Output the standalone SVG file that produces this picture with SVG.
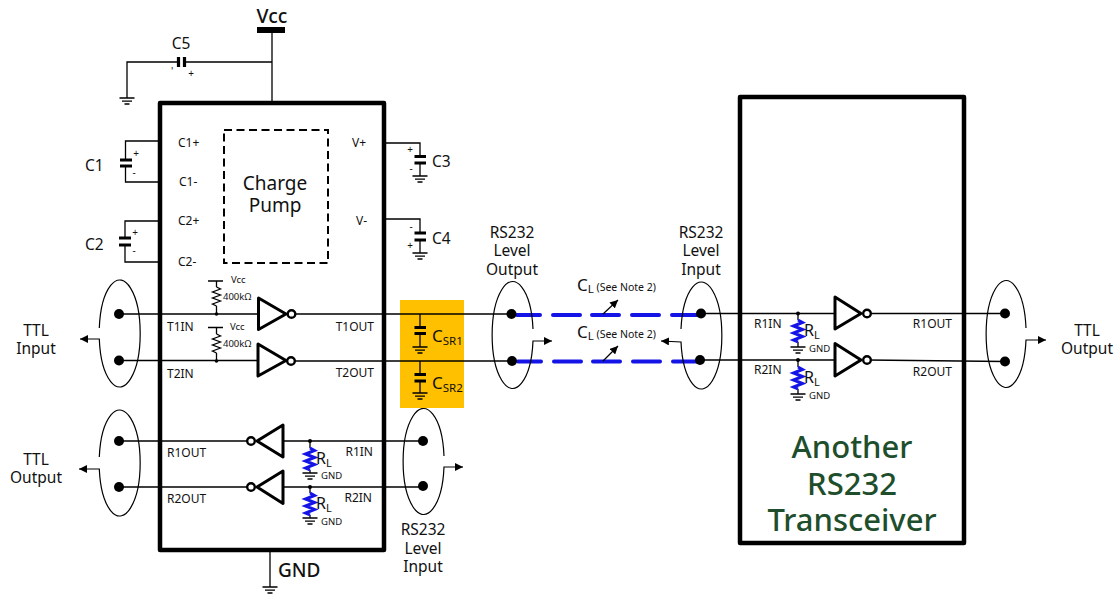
<svg xmlns="http://www.w3.org/2000/svg" width="1120" height="595" viewBox="0 0 1120 595">
<style>
text{font-family:"Noto Sans","Open Sans","Liberation Sans",sans-serif;fill:#111}
.m{text-anchor:middle}
.l{font-size:15.500px}
.p{font-size:12px}
.s{font-size:10px}
.x{font-size:9.500px}
.w{fill:none;stroke:#000;stroke-width:1.300}
.c{fill:none;stroke:#000;stroke-width:3.200}
.g{fill:none;stroke:#000;stroke-width:1.200}
.t{fill:#fff;stroke:#000;stroke-width:3;stroke-linejoin:round}
.o{fill:#fff;stroke:#000;stroke-width:2.400}
.z{fill:none;stroke:#1414e6;stroke-width:3}
.d{fill:none;stroke:#1414e6;stroke-width:4;stroke-linecap:round}
.big{font-size:31px;fill:#1E4E2C;font-weight:500}
.h{font-size:19px}
</style>
<defs>
<marker id="a" markerWidth="9" markerHeight="8" refX="8" refY="4" orient="auto" markerUnits="userSpaceOnUse"><path d="M0 0L8 4L0 8Z" fill="#000"/></marker>
<g id="gnd"><path class="w" d="M-7.500 0H7.500M-5 3.200H5M-2.500 6H2.500"/></g>
<path id="rz" d="M0 0L4.500 2.500L-4.500 6L4.500 9.500L-4.500 13L4.500 16.500L-4.500 20L0 22"/>
<path id="rk" d="M0 0L4 2L-4 5L4 8L-4 11L4 14L-4 17L0 19"/>
</defs>

<rect id="yellow" x="400" y="300" width="64" height="108" fill="#FFC000"/>

<g id="connectors">
<path class="w" d="M272 30V103M127 98V62H178M185 62H272"/>
<path class="w" d="M160 141H125.500V160M125.500 166V182H160M160 221H125V238M125 245V262H160"/>
<path class="w" d="M385 143H420V156M420 163V176M385 219H420V233M420 240V253"/>
<path class="w" d="M119 314H258M292 314H511M119 360.500H258M292 361H512"/>
<path class="w" d="M119 441H251M283 441H423M119 487H251M283 487H423"/>
<path class="w" d="M270 550V587"/>
<path class="w" d="M420 314V327M420 333V347M420 361V374M420 381V393"/>
<path class="w" d="M701 313.500H835M867 313.500H1005M700 360H835M867 360L1005 361.500"/>
<path class="d" d="M517 315H540M553 315H580M592 315H619M632 315H659M672 315H697M518 361.500H541M554 361.500H581M593 361.500H620M633 361.500H660M673 361.500H697"/>
<path class="g" d="M603 314L618 300" marker-end="url(#a)"/>
<path class="g" d="M603 361L618 346" marker-end="url(#a)"/>
<path class="g" d="M99.300 328A20.500 53.500 0 1 1 99.300 339H80" marker-end="url(#a)"/>
<path class="g" d="M99.300 457A20.500 53 0 1 1 99.300 469H79" marker-end="url(#a)"/>
<path class="g" d="M444 456A20.500 53 0 1 0 444 467H463" marker-end="url(#a)"/>
<path class="g" d="M533 329A20.500 53.500 0 1 0 533 341H552" marker-end="url(#a)"/>
<path class="g" d="M681 329A20.500 53.500 0 1 1 681 342L661 341" marker-end="url(#a)"/>
<path class="g" d="M1026 328A20 53.500 0 1 0 1026 340H1046" marker-end="url(#a)"/>
</g>

<g id="vcc"><rect x="257" y="27" width="28" height="6"/><text x="272" y="23" class="m" style="font-size:19.500px;font-weight:500">Vcc</text></g>

<g id="c5"><path class="c" d="M178.500 57V67M184.500 57V67"/><use href="#gnd" x="127" y="98"/><text x="181" y="49" class="m l">C5</text><text x="172" y="75" class="m s">'</text><text x="191" y="77" class="m s">+</text></g>

<g id="ic"><rect x="160" y="103" width="224" height="447" fill="none" stroke="#000" stroke-width="4.500" stroke-linejoin="round"/>
<text x="178" y="147" class="p">C1+</text><text x="179" y="186" class="p">C1-</text><text x="178" y="225" class="p">C2+</text><text x="178" y="266" class="p">C2-</text>
<text x="352" y="147" class="p">V+</text><text x="356" y="225" class="p">V-</text>
<text x="167" y="331" class="p">T1IN</text><text x="167" y="378" class="p">T2IN</text>
<text x="374" y="331" class="p" text-anchor="end">T1OUT</text><text x="374" y="377" class="p" text-anchor="end">T2OUT</text>
<text x="167" y="457" class="p">R1OUT</text><text x="167" y="503" class="p">R2OUT</text>
<text x="373" y="456" class="p" text-anchor="end">R1IN</text><text x="372" y="502" class="p" text-anchor="end">R2IN</text></g>

<g id="charge-pump"><rect x="224" y="130" width="104" height="133" fill="none" stroke="#000" stroke-width="2" stroke-dasharray="8 4.500"/><text class="m h"><tspan x="275" y="190">Charge</tspan><tspan x="275" y="212">Pump</tspan></text></g>

<g id="c1"><path class="c" d="M120 160H132M120 166H132"/><text x="85" y="171" class="l">C1</text><text x="136" y="157" class="m s">+</text><text x="134" y="176" class="m s">-</text></g>
<g id="c2"><path class="c" d="M119 238H131M119 245H131"/><text x="85" y="250" class="l">C2</text><text x="135" y="236" class="m s">+</text><text x="134" y="254" class="m s">-</text></g>
<g id="c3"><path class="c" d="M414.500 156.500H426M414.500 163H426"/><use href="#gnd" x="420" y="176"/><text x="432" y="167" class="l">C3</text><text x="410" y="153" class="m s">+</text><text x="411" y="172" class="m s">-</text></g>
<g id="c4"><path class="c" d="M414.500 233H426M414.500 240H426"/><use href="#gnd" x="420" y="253"/><text x="432" y="244" class="l">C4</text><text x="411" y="230" class="m s">-</text><text x="410" y="249" class="m s">+</text></g>

<g id="csr1"><path class="c" d="M414.500 327.500H426M414.500 333.500H426"/><use href="#gnd" x="420" y="347"/><text x="432" y="342" style="font-size:17px">C<tspan dy="3" style="font-size:11.500px">SR1</tspan></text></g>
<g id="csr2"><path class="c" d="M414.500 374.500H426M414.500 381H426"/><use href="#gnd" x="420" y="393"/><text x="432" y="389" style="font-size:17px">C<tspan dy="3" style="font-size:11.500px">SR2</tspan></text></g>

<g id="pull-up-1"><path class="w" d="M208 281H223M216.500 281V287M216.500 306V314"/><use href="#rk" x="216.500" y="287" class="w"/><circle cx="216.500" cy="314" r="1.800"/><text x="231" y="283" class="x">Vcc</text><text x="223" y="300" class="x">400kΩ</text></g>
<g id="pull-up-2"><path class="w" d="M208 327.500H223M216.500 327.500V334M216.500 353V361"/><use href="#rk" x="216.500" y="334" class="w"/><circle cx="216.500" cy="361" r="1.800"/><text x="230" y="330" class="x">Vcc</text><text x="223" y="347" class="x">400kΩ</text></g>

<g id="t1"><path class="t" d="M258.500 298L286 314L258.500 329.500Z"/><circle class="o" cx="291.500" cy="314" r="3.800"/></g>
<g id="t2"><path class="t" d="M258 344L286 360.500L258 376Z"/><circle class="o" cx="291" cy="361" r="3.800"/></g>
<g id="r1"><path class="t" d="M283 425L257 441L283 457Z"/><circle class="o" cx="251" cy="441" r="3.800"/></g>
<g id="r2"><path class="t" d="M283 471L257 487L283 503.500Z"/><circle class="o" cx="251" cy="487" r="3.800"/></g>

<g id="rl1"><path class="w" d="M310 441V448M310 470V473"/><circle cx="310" cy="441" r="2"/><use href="#rz" x="310" y="448" class="z"/><use href="#gnd" x="310" y="473"/><text x="316" y="464" style="font-size:16px">R<tspan dy="3" style="font-size:11px">L</tspan></text><text x="321" y="479" class="x">GND</text></g>
<g id="rl2"><path class="w" d="M310 487V493M310 515V518"/><circle cx="310" cy="487" r="2"/><use href="#rz" x="310" y="493" class="z"/><use href="#gnd" x="310" y="518"/><text x="316" y="509" style="font-size:16px">R<tspan dy="3" style="font-size:11px">L</tspan></text><text x="321" y="525" class="x">GND</text></g>

<g id="gnd-pin"><use href="#gnd" x="270" y="587"/><text x="278" y="577" style="font-size:19px;font-weight:500">GND</text></g>

<g id="dots-left"><circle cx="119" cy="314" r="5"/><circle cx="119" cy="360.500" r="5"/><circle cx="119" cy="441" r="5"/><circle cx="119" cy="487" r="5"/></g>
<g id="dots-mid"><circle cx="423" cy="441" r="5"/><circle cx="423" cy="486" r="5"/><circle cx="511.500" cy="314" r="5"/><circle cx="512" cy="361" r="5"/><circle cx="701" cy="313.500" r="5"/><circle cx="700" cy="360" r="5"/></g>

<g id="ttl-input"><text class="m l"><tspan x="36" y="336">TTL</tspan><tspan x="36" y="354">Input</tspan></text></g>
<g id="ttl-output-left"><text class="m l"><tspan x="36" y="465">TTL</tspan><tspan x="36" y="483">Output</tspan></text></g>
<g id="rs232-out"><text class="m l"><tspan x="512" y="238">RS232</tspan><tspan x="512" y="256">Level</tspan><tspan x="512" y="275">Output</tspan></text></g>
<g id="rs232-in"><text class="m l"><tspan x="701" y="238">RS232</tspan><tspan x="701" y="256">Level</tspan><tspan x="701" y="275">Input</tspan></text></g>
<g id="rs232-in-low"><text class="m l"><tspan x="423" y="535">RS232</tspan><tspan x="423" y="554">Level</tspan><tspan x="423" y="572">Input</tspan></text></g>
<g id="cl1"><text x="577" y="291" style="font-size:17px">C<tspan dy="2" style="font-size:11.500px">L</tspan><tspan dy="-2" style="font-size:10.500px"> (See Note 2)</tspan></text></g>
<g id="cl2"><text x="577" y="338" style="font-size:17px">C<tspan dy="2" style="font-size:11.500px">L</tspan><tspan dy="-2" style="font-size:10.500px"> (See Note 2)</tspan></text></g>

<g id="another"><rect x="740" y="97" width="224" height="446" fill="none" stroke="#000" stroke-width="4.500" stroke-linejoin="round"/>
<text class="m big"><tspan x="852" y="458">Another</tspan><tspan x="852" y="495">RS232</tspan><tspan x="852" y="531">Transceiver</tspan></text>
<text x="754" y="328" class="p">R1IN</text><text x="754" y="374" class="p">R2IN</text><text x="952" y="328" class="p" text-anchor="end">R1OUT</text><text x="952" y="376" class="p" text-anchor="end">R2OUT</text></g>

<g id="rt1"><path class="t" d="M835 297L861 313.500L835 329Z"/><circle class="o" cx="867" cy="313.500" r="3.800"/></g>
<g id="rt2"><path class="t" d="M835 343.500L861 360L835 376Z"/><circle class="o" cx="867" cy="360" r="3.800"/></g>
<g id="rl3"><path class="w" d="M798 313.500V320M798 342V347"/><circle cx="798" cy="313.500" r="2"/><use href="#rz" x="798" y="320" class="z"/><use href="#gnd" x="798" y="347"/><text x="804" y="336" style="font-size:16px">R<tspan dy="3" style="font-size:11px">L</tspan></text><text x="809" y="352" class="x">GND</text></g>
<g id="rl4"><path class="w" d="M798 360V367M798 389V394"/><circle cx="798" cy="360" r="2"/><use href="#rz" x="798" y="367" class="z"/><use href="#gnd" x="798" y="394"/><text x="804" y="383" style="font-size:16px">R<tspan dy="3" style="font-size:11px">L</tspan></text><text x="809" y="399" class="x">GND</text></g>
<g id="dots-right"><circle cx="1005" cy="313.500" r="5"/><circle cx="1005" cy="361.500" r="5"/></g>
<g id="ttl-output-right"><text class="m l"><tspan x="1087" y="336">TTL</tspan><tspan x="1087" y="354">Output</tspan></text></g>
</svg>
